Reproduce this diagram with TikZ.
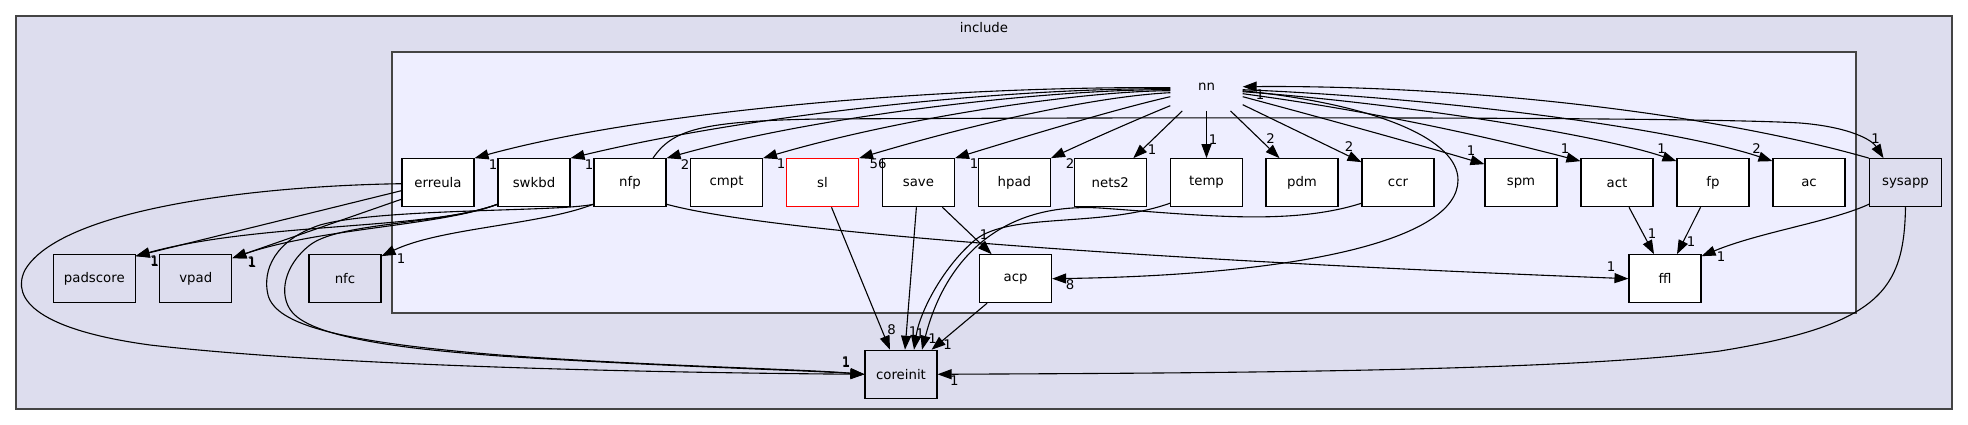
\documentclass[tikz,border=0pt]{standalone}
\usepackage{fontspec}
\setmainfont{DejaVu Sans}
\usetikzlibrary{arrows.meta,calc}
\definecolor{outerfill}{HTML}{DDDDEE}
\definecolor{innerfill}{HTML}{EEEEFF}
\definecolor{clusterline}{HTML}{444444}
\begin{document}
\begin{tikzpicture}[x=1pt,y=-1pt,
  every node/.style={font=\fontsize{13.3}{15}\selectfont, inner sep=0pt},
  cluster/.style={draw=clusterline, line width=1.5pt},
  dirbox/.style={draw=black, line width=1.1pt, fill=white, minimum width=72pt, minimum height=48pt},
  outbox/.style={dirbox, fill=outerfill},
  edge/.style={line width=1.1pt, -{Triangle[length=14pt,width=10pt]}},
  lbl/.style={}]
\useasboundingbox (0,0) rectangle (1968,425);
% clusters
\node[cluster, fill=outerfill, minimum width=1936pt, minimum height=393pt] (include) at (984,212.5) {};
\node (inctitle) at (984,27.5) {include};
\node[cluster, fill=innerfill, minimum width=1464pt, minimum height=261pt] (nncluster) at (1124,182.5) {};
\node[minimum width=72pt, minimum height=48pt] (nn) at (1206.5,86.7) {nn};
% row nodes
\node[dirbox] (erreula) at (438,182.7) {erreula};
\node[dirbox] (swkbd) at (534,182.7) {swkbd};
\node[dirbox] (nfp) at (630,182.7) {nfp};
\node[dirbox] (cmpt) at (726.5,182.7) {cmpt};
\node[dirbox, draw=red] (sl) at (822.5,182.7) {sl};
\node[dirbox] (save) at (918.4,182.7) {save};
\node[dirbox] (hpad) at (1014.4,182.7) {hpad};
\node[dirbox] (nets2) at (1110.3,182.7) {nets2};
\node[dirbox] (temp) at (1206.5,182.7) {temp};
\node[dirbox] (pdm) at (1302,182.7) {pdm};
\node[dirbox] (ccr) at (1398,182.7) {ccr};
\node[dirbox] (spm) at (1521,182.7) {spm};
\node[dirbox] (act) at (1617,182.7) {act};
\node[dirbox] (fp) at (1713,182.7) {fp};
\node[dirbox] (ac) at (1809,182.7) {ac};
\node[outbox] (sysapp) at (1905.5,182.7) {sysapp};
% lower nodes
\node[outbox, minimum width=81.5pt] (padscore) at (94.3,278.7) {padscore};
\node[outbox] (vpad) at (195.8,278.7) {vpad};
\node[outbox] (nfc) at (345,278.7) {nfc};
\node[dirbox] (acp) at (1015.6,278.7) {acp};
\node[dirbox] (ffl) at (1665,278.7) {ffl};
\node[outbox] (coreinit) at (901,374.3) {coreinit};
% nn -> left row
\draw[edge] ($(nn.west)+(0,1)$) .. controls (950,86) and (650,110) .. (erreula.north east);
\draw[edge] ($(nn.west)+(0,2)$) .. controls (1000,88) and (750,115) .. (swkbd.north east);
\draw[edge] ($(nn.west)+(0,3)$) .. controls (1050,89) and (820,115) .. (nfp.north east);
\draw[edge] ($(nn.west)+(0,4)$) .. controls (1080,91) and (900,118) .. (cmpt.north east);
\draw[edge] ($(nn.west)+(0,6)$) .. controls (1100,96) and (980,122) .. (sl.north east);
\draw[edge] ($(nn.west)+(0,10)$) .. controls (1120,108) and (1030,135) .. (save.north east);
\draw[edge] ($(nn.west)+(0,19)$) .. controls (1140,118) and (1090,140) .. (hpad.north east);
\draw[edge] ($(nn.south west)+(12,0)$) -- ($(nets2.north)+(23,0)$);
\draw[edge] (nn.south) -- (temp.north);
\draw[edge] ($(nn.south)+(24,0)$) -- ($(pdm.north west)+(14,0)$);
\draw[edge] ($(nn.east)+(0,18)$) -- ($(ccr.north west)+(0,4)$);
\draw[edge] ($(nn.east)+(0,10)$) .. controls (1330,120) and (1420,145) .. ($(spm.north west)+(0,6)$);
\draw[edge] ($(nn.east)+(0,7)$) .. controls (1380,112) and (1500,140) .. ($(act.north west)+(0,3)$);
\draw[edge] ($(nn.east)+(0,5)$) .. controls (1400,103) and (1600,135) .. ($(fp.north west)+(0,3)$);
\draw[edge] ($(nn.east)+(0,3)$) .. controls (1450,98) and (1680,130) .. ($(ac.north west)+(0,3)$);
\draw[edge] ($(nn.east)+(0,4)$) .. controls (1380,105) and (1458,140) .. (1458,180) .. controls (1458,240) and (1300,275) .. (acp.east);
\draw[edge] (sysapp.north west) .. controls (1700,110) and (1450,85) .. (nn.east);
\draw[edge] ($(nfp.north)+(23,0)$) .. controls (672,130) and (700,121) .. (820,119) .. controls (1200,117) and (1700,117) .. (1800,123) .. controls (1850,127) and (1872,140) .. ($(sysapp.north)+(-22,0)$);
% lower edges
\draw[edge] ($(act.south)+(12,0)$) -- ($(ffl.north)+(-11,0)$);
\draw[edge] ($(fp.south)+(-12.5,0)$) -- ($(ffl.north)+(12,0)$);
\draw[edge] ($(sysapp.south west)+(0,-3)$) .. controls (1830,222) and (1760,232) .. ($(ffl.north east)+(0,2)$);
\draw[edge] ($(nfp.south east)+(0,-3)$) .. controls (780,235) and (1200,262) .. (ffl.west);
\draw[edge] (sysapp.south) .. controls (1904,290) and (1880,325) .. (1720,351) .. controls (1560,372) and (1200,373) .. (coreinit.east);
\draw[edge] ($(save.south)+(24,0)$) -- ($(acp.north)+(-24,0)$);
\draw[edge] ($(save.south)+(-2,0)$) -- ($(coreinit.north)+(4,0)$);
\draw[edge] ($(sl.south)+(9,0)$) -- ($(coreinit.north)+(-11,0)$);
\draw[edge] ($(acp.south west)+(8,0)$) -- ($(coreinit.north east)+(-6,0)$);
\draw[edge] ($(temp.south west)+(0,-4)$) .. controls (1100,228) and (1010,212) .. (975,240) .. controls (945,265) and (920,310) .. ($(coreinit.north)+(13,0)$);
\draw[edge] ($(ccr.south west)+(0,-4)$) .. controls (1290,226) and (1200,215) .. (1100,208) .. controls (1000,202) and (945,260) .. ($(coreinit.north)+(21,0)$);
% left edges
\draw[edge] ($(erreula.west)+(0,1)$) .. controls (250,186) and (60,210) .. (25,270) .. controls (10,300) and (40,330) .. (150,345) .. controls (350,368) and (700,373) .. (coreinit.west);
\draw[edge] ($(erreula.west)+(0,8)$) -- ($(padscore.north east)+(0,2)$);
\draw[edge] ($(erreula.south west)+(0,-8)$) -- ($(vpad.north east)+(0,4)$);
\draw[edge] ($(swkbd.south west)+(0,-3)$) .. controls (430,230) and (260,222) .. ($(padscore.north east)+(0,2)$);
\draw[edge] ($(swkbd.south west)+(0,-3)$) .. controls (440,226) and (320,228) .. ($(vpad.north east)+(0,4)$);
\draw[edge] ($(swkbd.south west)+(0,-3)$) .. controls (440,225) and (340,222) .. (310,245) .. controls (284,265) and (278,295) .. (292,312) .. controls (315,340) and (420,350) .. (500,356) .. controls (650,366) and (800,370) .. (coreinit.west);
\draw[edge] ($(nfp.south west)+(0,-3)$) .. controls (560,212) and (380,208) .. (320,225) .. controls (275,240) and (262,270) .. (268,295) .. controls (276,325) and (340,342) .. (500,355) .. controls (650,366) and (800,369) .. (coreinit.west);
\draw[edge] ($(nfp.south west)+(0,-3)$) .. controls (540,225) and (440,228) .. ($(nfc.north east)+(0,2)$);
% labels
\node[lbl] (l1) at (493,165) {1};
\node[lbl] (l2) at (589,165) {1};
\node[lbl] (l3) at (685,165) {2};
\node[lbl] (l4) at (781,164) {1};
\node[lbl] (l5) at (878,164) {56};
\node[lbl] (l6) at (974,164) {1};
\node[lbl] (l7) at (1070,164) {2};
\node[lbl] (l8) at (1152,150) {1};
\node[lbl] (l9) at (1213,140) {1};
\node[lbl] (l10) at (1270.7,138.7) {2};
\node[lbl] (l11) at (1349,147) {2};
\node[lbl] (l12) at (1471,150.7) {1};
\node[lbl] (l13) at (1565,149) {1};
\node[lbl] (l14) at (1661.7,149) {1};
\node[lbl] (l15) at (1756.7,149) {2};
\node[lbl] (l16) at (1875.7,139) {1};
\node[lbl] (l17) at (1260,95) {1};
\node[lbl] (l18) at (1070,285) {8};
\node[lbl] (l19) at (984,235) {1};
\node[lbl] (l20) at (891.7,330) {8};
\node[lbl] (l21) at (913,332) {1};
\node[lbl] (l22) at (920,334) {1};
\node[lbl] (l23) at (932.7,339) {1};
\node[lbl] (l24) at (947.7,345) {1};
\node[lbl] (l25) at (846,362.7) {1};
\node[lbl] (l26) at (846,361.3) {1};
\node[lbl] (l27) at (954.3,381) {1};
\node[lbl] (l28) at (154.3,261) {1};
\node[lbl] (l29) at (154.8,261.4) {1};
\node[lbl] (l30) at (251.7,261.7) {1};
\node[lbl] (l31) at (252.3,262.2) {1};
\node[lbl] (l32) at (401,258.3) {1};
\node[lbl] (l33) at (1652,233.3) {1};
\node[lbl] (l34) at (1691,241.3) {1};
\node[lbl] (l35) at (1721,256.7) {1};
\node[lbl] (l36) at (1611,266.7) {1};
\end{tikzpicture}
\end{document}
